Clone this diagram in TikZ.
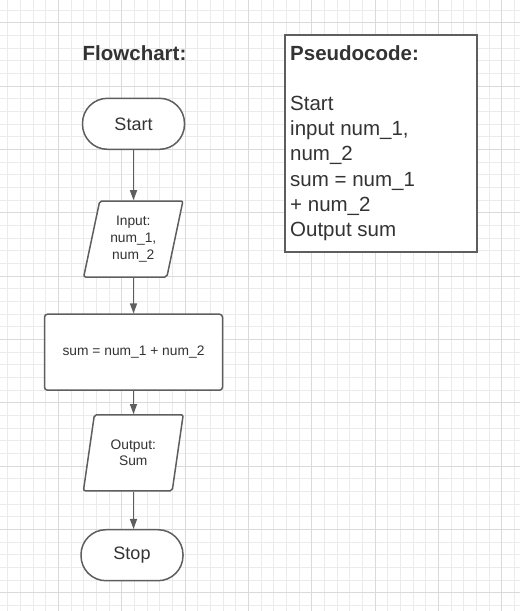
\documentclass[tikz,border=0pt]{standalone}
\usepackage{fontspec}
\setmainfont{Liberation Sans}
\usetikzlibrary{shapes.geometric,arrows.meta}
\definecolor{txt}{HTML}{333333}
\definecolor{strk}{HTML}{5E5E5E}
\definecolor{gminor}{HTML}{EBEBEB}
\definecolor{gmajor}{HTML}{DADADA}
\tikzset{
  minorline/.style={draw=gminor,line width=1pt},
  majorline/.style={draw=gmajor,line width=1pt},
  term/.style={draw=strk,line width=1.5pt,fill=white,rounded corners=25pt,
    minimum width=102pt,minimum height=51pt,inner sep=0pt,text=txt,
    font=\fontsize{18}{21}\selectfont},
  io/.style={trapezium,draw=strk,line width=1.5pt,fill=white,rounded corners=2pt,
    trapezium left angle=76.5,trapezium right angle=103.5,trapezium stretches=true,
    minimum width=100pt,minimum height=76pt,inner sep=0pt,text=txt,align=center,
    font=\fontsize{13.8}{16.8}\selectfont},
  proc/.style={draw=strk,line width=1.5pt,fill=white,rounded corners=3pt,
    minimum width=178pt,minimum height=76pt,inner sep=0pt,text=txt,
    font=\fontsize{13.8}{16.8}\selectfont},
  conn/.style={draw=strk,line width=1.4pt,-{Triangle[length=10pt,width=7pt]}},
  heading/.style={text=txt,font=\bfseries\fontsize{20.5}{25}\selectfont,inner sep=0pt}
}
\begin{document}
\begin{tikzpicture}[x=1pt,y=-1pt]
\useasboundingbox (0,0) rectangle (520,611);
\fill[white] (0,0) rectangle (520,611);
% grid
\foreach \i in {0,...,40} \draw[minorline] ({7.667+12.667*\i},0) -- ({7.667+12.667*\i},611);
\foreach \i in {0,...,47} \draw[minorline] (0,{10+12.667*\i}) -- (520,{10+12.667*\i});
\foreach \i in {0,...,7} \draw[majorline] ({58.333+63.333*\i},0) -- ({58.333+63.333*\i},611);
\foreach \i in {0,...,9} \draw[majorline] (0,{22.667+63.333*\i}) -- (520,{22.667+63.333*\i});
% heading
\node[heading] (fchead) at (134.5,53) {Flowchart:};
% flowchart
\node[term] (start) at (133.5,123.8) {Start};
\node[io] (input) at (133.3,239) {Input:\\num\_1,\\num\_2};
\node[proc] (sum) at (133.5,352.2) {sum = num\_1 + num\_2};
\node[io] (output) at (133.3,452.8) {Output:\\Sum};
\node[term] (stop) at (132,555.2) {Stop};
\draw[conn] (start.south) -- (input.north -| start.south);
\draw[conn] (input.south -| start.south) -- (sum.north -| start.south);
\draw[conn] (sum.south -| start.south) -- (output.north -| start.south);
\draw[conn] (output.south -| start.south) -- (stop.north -| start.south);
% pseudocode box
\node[draw=strk,line width=1.8pt,fill=white,minimum width=192pt,minimum height=217pt,inner sep=0pt] (pbox) at (380.8,143.3) {};
\node[anchor=north west,inner sep=0pt,text=txt,align=left,font=\fontsize{20.5}{25.2}\selectfont] (ptext) at (290,45) {\textbf{Pseudocode:}\\[0pt] \\Start\\input num\_1,\\num\_2\\sum = num\_1\\+ num\_2\\Output sum};
\end{tikzpicture}
\end{document}
